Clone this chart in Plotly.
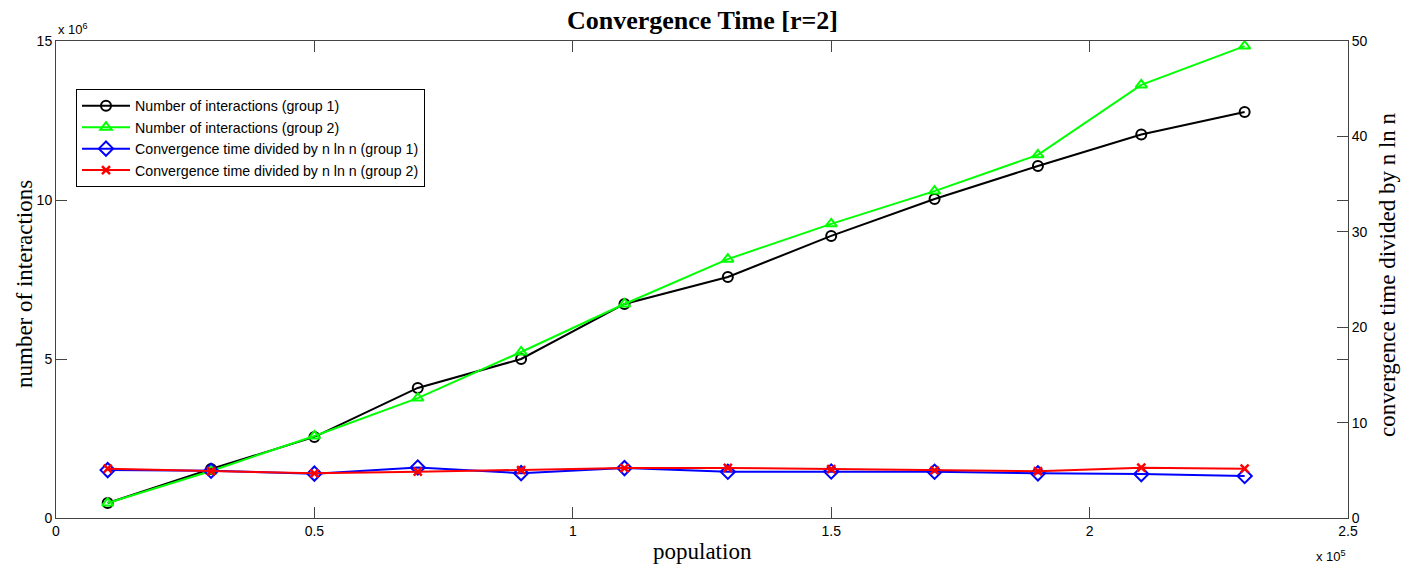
import plotly.graph_objects as go

population = [10000, 30000, 50000, 70000, 90000, 110000, 130000, 150000, 170000, 190000, 210000, 230000]
interactions_g1 = [0.47e6, 1.54e6, 2.55e6, 4.09e6, 5.00e6, 6.73e6, 7.58e6, 8.87e6, 10.03e6, 11.07e6, 12.06e6, 12.77e6]
interactions_g2 = [0.47e6, 1.48e6, 2.58e6, 3.77e6, 5.22e6, 6.73e6, 8.14e6, 9.25e6, 10.28e6, 11.42e6, 13.62e6, 14.84e6]
ratio_g1 = [5.02, 4.95, 4.65, 5.30, 4.70, 5.23, 4.85, 4.87, 4.85, 4.68, 4.60, 4.40]
ratio_g2 = [5.17, 4.90, 4.68, 4.85, 5.02, 5.23, 5.25, 5.12, 4.98, 4.90, 5.27, 5.17]

x_tickvals = [0, 50000, 100000, 150000, 200000, 250000]
x_ticktext = ["0", "0.5", "1", "1.5", "2", "2.5"]
y1_tickvals = [0, 5e6, 10e6, 15e6]
y1_ticktext = ["0", "5", "10", "15"]
y2_tickvals = [0, 10, 20, 30, 40, 50]

names = ["Number of interactions (group 1)", "Number of interactions (group 2)",
         "Convergence time divided by n ln n (group 1)", "Convergence time divided by n ln n (group 2)"]

W, H = 1413, 568
L, R, T, B = 56, 1348, 41, 518
PW, PH = R - L, B - T

fig = go.Figure()
fig.add_trace(go.Scatter(x=population, y=interactions_g1, name=names[0], mode="lines+markers",
                         line=dict(color="black", width=2),
                         marker=dict(symbol="circle-open", size=10, color="black", line=dict(width=2))))
fig.add_trace(go.Scatter(x=population, y=interactions_g2, name=names[1], mode="lines+markers",
                         line=dict(color="#00ff00", width=2),
                         marker=dict(symbol="triangle-up-open", size=10, color="#00ff00", line=dict(width=2))))
fig.add_trace(go.Scatter(x=population, y=ratio_g1, name=names[2], mode="lines+markers", yaxis="y2",
                         line=dict(color="#0000ff", width=2),
                         marker=dict(symbol="diamond-open", size=11, color="#0000ff", line=dict(width=2))))
fig.add_trace(go.Scatter(x=population, y=ratio_g2, name=names[3], mode="lines+markers", yaxis="y2",
                         line=dict(color="#ff0000", width=2),
                         marker=dict(symbol="x-thin-open", size=8, color="#ff0000", line=dict(width=2.5, color="#ff0000"))))

axis_col = "#444444"
tickfont = dict(family="Liberation Sans, Arial", size=14, color="black")

fig.update_layout(
    width=W, height=H,
    margin=dict(l=L, r=W - R, t=T, b=H - B, pad=0),
    paper_bgcolor="white", plot_bgcolor="white",
    showlegend=True,
    legend=dict(x=(76 - L) / PW, y=(B - 89) / PH, xanchor="left", yanchor="top",
                bgcolor="white", bordercolor="black", borderwidth=1,
                font=dict(family="Liberation Sans, Arial", size=14.2, color="black"),
                tracegroupgap=0, itemwidth=48),
    xaxis=dict(range=[0, 250000], tickvals=x_tickvals, ticktext=x_ticktext, ticks="inside", ticklen=11,
               tickcolor=axis_col, showline=True, linecolor=axis_col, linewidth=1, mirror="ticks",
               showgrid=False, zeroline=False, tickfont=tickfont),
    yaxis=dict(range=[0, 15e6], tickvals=y1_tickvals, ticktext=y1_ticktext, ticks="inside", ticklen=11,
               tickcolor=axis_col, showline=True, linecolor=axis_col, linewidth=1, mirror="ticks",
               showgrid=False, zeroline=False, tickfont=tickfont),
    yaxis2=dict(range=[0, 50], tickvals=y2_tickvals, ticks="inside", ticklen=11, overlaying="y", side="right",
                tickcolor=axis_col, showline=True, linecolor=axis_col, linewidth=1,
                showgrid=False, zeroline=False, tickfont=tickfont),
    font=dict(family="Liberation Sans, Arial", color="black"),
)

serif = "Liberation Serif, Times New Roman"
ann = [
    dict(text="<b>Convergence Time [r=2]</b>", x=0.5, y=(B - 20) / PH, xref="paper", yref="paper",
         showarrow=False, font=dict(family=serif, size=26, color="black"), xanchor="center", yanchor="middle"),
    dict(text="number of interactions", x=-(L - 24) / PW, y=(B - 284) / PH, xref="paper", yref="paper",
         showarrow=False, textangle=-90, font=dict(family=serif, size=23, color="black"),
         xanchor="center", yanchor="middle"),
    dict(text="convergence time divided by n ln n", x=1 + (1387 - R) / PW, y=(B - 274) / PH,
         xref="paper", yref="paper", showarrow=False, textangle=-90,
         font=dict(family=serif, size=23, color="black"), xanchor="center", yanchor="middle"),
    dict(text="population", x=0.5, y=-(551 - B) / PH, xref="paper", yref="paper",
         showarrow=False, font=dict(family=serif, size=23, color="black"), xanchor="center", yanchor="middle"),
    dict(text="x 10<sup>6</sup>", x=0, y=1 + (T - 29) / PH, xref="paper", yref="paper",
         showarrow=False, font=dict(family="Liberation Sans, Arial", size=13, color="black"),
         xanchor="left", yanchor="middle"),
    dict(text="x 10<sup>5</sup>", x=1, y=-(556 - B) / PH, xref="paper", yref="paper",
         showarrow=False, font=dict(family="Liberation Sans, Arial", size=13, color="black"),
         xanchor="right", yanchor="middle"),
]
fig.update_layout(annotations=ann)

fig.write_html("out.html")
